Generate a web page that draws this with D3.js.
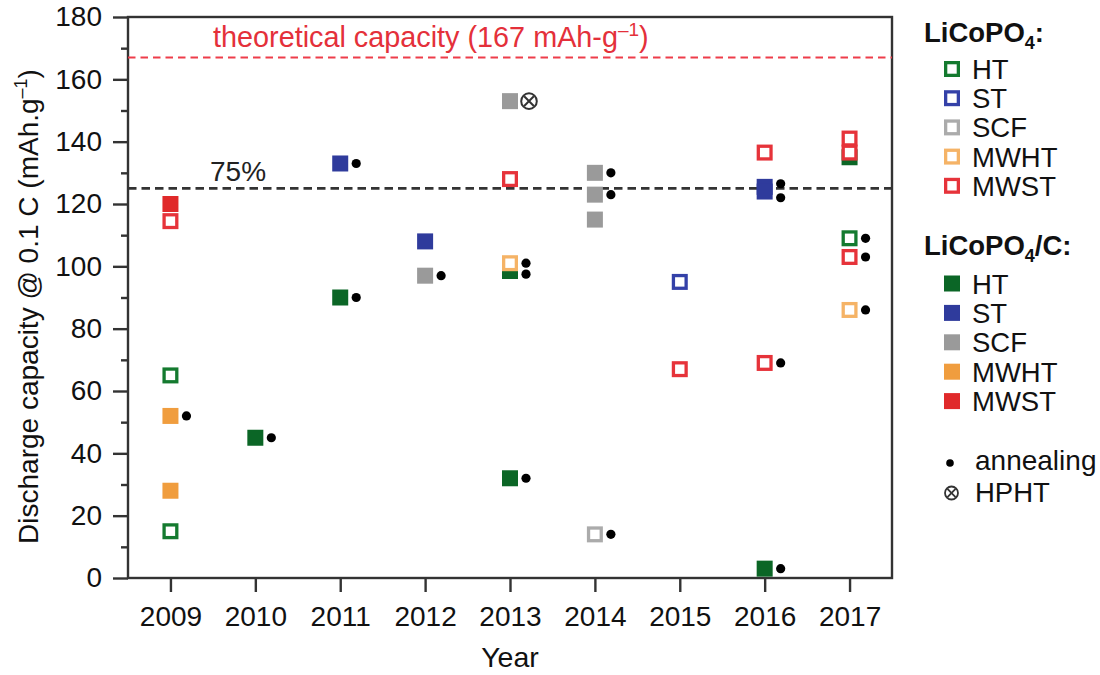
<!DOCTYPE html>
<html>
<head>
<meta charset="utf-8">
<script src="https://cdn.jsdelivr.net/npm/d3@7"></script>
<style>
  html, body { margin: 0; padding: 0; background: #fff; }
  svg { display: block; font-family: "Liberation Sans", Arial, Helvetica, sans-serif; }
</style>
</head>
<body>
<svg id="chart" width="1100" height="675"></svg>
<script>
// ---------------- data ----------------
const years = [2009, 2010, 2011, 2012, 2013, 2014, 2015, 2016, 2017];
const yTicks = [0, 20, 40, 60, 80, 100, 120, 140, 160, 180];
const yMinorTicks = [10, 30, 50, 70, 90, 110, 130, 150, 170];
const methods = ["HT", "ST", "SCF", "MWHT", "MWST"];
const filledColors = ["#0b6626", "#2f3b9c", "#9a9a9a", "#f09d3e", "#e0292a"];
const openColors = ["#147a2f", "#3441a8", "#ababab", "#f5b366", "#e6333a"];

// LiCoPO4 (open squares): [method, year, capacity]
const licopo4 = [
  ["HT", 2009, 65], ["HT", 2009, 15], ["HT", 2017, 109],
  ["ST", 2015, 95],
  ["SCF", 2014, 14],
  ["MWHT", 2013, 101], ["MWHT", 2017, 86],
  ["MWST", 2009, 114.5], ["MWST", 2013, 128], ["MWST", 2015, 67],
  ["MWST", 2016, 136.5], ["MWST", 2016, 69],
  ["MWST", 2017, 141], ["MWST", 2017, 136.5], ["MWST", 2017, 103]
];

// LiCoPO4/C (filled squares): [method, year, capacity]
const licopo4C = [
  ["HT", 2010, 45], ["HT", 2011, 90], ["HT", 2013, 98.5], ["HT", 2013, 32],
  ["HT", 2016, 3], ["HT", 2017, 135],
  ["ST", 2011, 133], ["ST", 2012, 108], ["ST", 2016, 125.5], ["ST", 2016, 124],
  ["SCF", 2012, 97], ["SCF", 2013, 153], ["SCF", 2014, 130], ["SCF", 2014, 123], ["SCF", 2014, 115],
  ["MWHT", 2009, 52], ["MWHT", 2009, 28],
  ["MWST", 2009, 120]
];

// annealing markers: [year, capacity]
const annealing = [
  [2009, 52], [2010, 45], [2011, 133], [2011, 90], [2012, 97],
  [2013, 101], [2013, 97.5], [2013, 32],
  [2014, 130], [2014, 123], [2014, 14],
  [2016, 126.5], [2016, 122], [2016, 69], [2016, 3],
  [2017, 109], [2017, 103], [2017, 86]
];
// HPHT markers: [year, capacity]
const hpht = [[2013, 153]];

const theoreticalCapacity = 167;
const practicalLevel = 125;   // 75 %

// ---------------- layout ----------------
const svg = d3.select("#chart");
const pLeft = 128, pRight = 892, pTop = 17, pBottom = 578;
const fontMain = 28;

const x = d3.scaleLinear().domain([2008.5, 2017.5]).range([pLeft, pRight]);
const y = d3.scaleLinear().domain([0, 180]).range([pBottom, pTop]);
const fillOf = d3.scaleOrdinal().domain(methods).range(filledColors);
const strokeOf = d3.scaleOrdinal().domain(methods).range(openColors);

const axisColor = "#333";

// axes
const yAxis = svg.append("g").attr("transform", `translate(${pLeft},0)`)
  .call(d3.axisLeft(y).tickValues(yTicks).tickSize(15).tickPadding(11).tickFormat(d3.format("d")));
const yMinor = svg.append("g").attr("transform", `translate(${pLeft},0)`)
  .call(d3.axisLeft(y).tickValues(yMinorTicks).tickSize(7).tickFormat(""));
const xAxis = svg.append("g").attr("transform", `translate(0,${pBottom})`)
  .call(d3.axisBottom(x).tickValues(years).tickSize(14).tickPadding(14).tickFormat(d3.format("d")));

[yAxis, yMinor, xAxis].forEach(g => {
  g.select(".domain").remove();
  g.selectAll(".tick line").attr("stroke", axisColor).attr("stroke-width", 2.4);
  g.selectAll(".tick text").attr("fill", "#111").style("font-size", fontMain + "px")
    .style("font-family", '"Liberation Sans", Arial, sans-serif');
});

// frame
svg.append("rect")
  .attr("x", pLeft).attr("y", pTop)
  .attr("width", pRight - pLeft).attr("height", pBottom - pTop)
  .attr("fill", "none").attr("stroke", axisColor).attr("stroke-width", 2.4);

// reference lines
svg.append("line")
  .attr("x1", pLeft).attr("x2", pRight)
  .attr("y1", y(theoreticalCapacity)).attr("y2", y(theoreticalCapacity))
  .attr("stroke", "#ee3d4a").attr("stroke-width", 2.2).attr("stroke-dasharray", "7.5 5");
svg.append("line")
  .attr("x1", pLeft).attr("x2", pRight)
  .attr("y1", y(practicalLevel)).attr("y2", y(practicalLevel))
  .attr("stroke", "#333").attr("stroke-width", 2.6).attr("stroke-dasharray", "8.5 5");

const theo = svg.append("text")
  .attr("x", 213).attr("y", y(theoreticalCapacity) - 11)
  .attr("fill", "#e4303a").style("font-size", "28.8px");
theo.append("tspan").text("theoretical capacity (167 mAh-g");
theo.append("tspan").attr("dy", -11).style("font-size", "19px").text("–1");
theo.append("tspan").attr("dy", 11).text(")");

svg.append("text")
  .attr("x", 210).attr("y", y(practicalLevel) - 7)
  .attr("fill", "#222").style("font-size", "28px").text("75%");

// axis titles
const yl = svg.append("text")
  .attr("transform", `translate(37.5,${(pTop + pBottom) / 2 + 9}) rotate(-90)`)
  .attr("text-anchor", "middle").attr("fill", "#111").style("font-size", "28px");
yl.append("tspan").text("Discharge capacity @ 0.1 C (mAh.g");
yl.append("tspan").attr("dy", -11).style("font-size", "18px").text("–1");
yl.append("tspan").attr("dy", 11).text(")");

svg.append("text")
  .attr("x", (pLeft + pRight) / 2).attr("y", 667)
  .attr("text-anchor", "middle").attr("fill", "#111").style("font-size", "28.5px").text("Year");

// markers
const sq = 16, openStroke = 3.3;
svg.append("g").selectAll("rect").data(licopo4C).join("rect")
  .attr("x", d => x(d[1]) - sq / 2).attr("y", d => y(d[2]) - sq / 2)
  .attr("width", sq).attr("height", sq)
  .attr("fill", d => fillOf(d[0]));

svg.append("g").selectAll("rect").data(licopo4).join("rect")
  .attr("x", d => x(d[1]) - (sq - openStroke) / 2).attr("y", d => y(d[2]) - (sq - openStroke) / 2)
  .attr("width", sq - openStroke).attr("height", sq - openStroke)
  .attr("fill", "#fff").attr("stroke", d => strokeOf(d[0])).attr("stroke-width", openStroke);

const dotOffset = 16;
svg.append("g").selectAll("circle").data(annealing).join("circle")
  .attr("cx", d => x(d[0]) + dotOffset).attr("cy", d => y(d[1]))
  .attr("r", 4.6).attr("fill", "#000");

function otimes(g, cx, cy, r, sw) {
  g.append("circle").attr("cx", cx).attr("cy", cy).attr("r", r)
    .attr("fill", "#fff").attr("stroke", "#333").attr("stroke-width", sw);
  const k = r * 0.62;
  g.append("line").attr("x1", cx - k).attr("y1", cy - k).attr("x2", cx + k).attr("y2", cy + k)
    .attr("stroke", "#333").attr("stroke-width", sw);
  g.append("line").attr("x1", cx - k).attr("y1", cy + k).attr("x2", cx + k).attr("y2", cy - k)
    .attr("stroke", "#333").attr("stroke-width", sw);
}
const hg = svg.append("g");
hpht.forEach(d => otimes(hg, x(d[0]) + 19, y(d[1]), 7.8, 2));

// ---------------- legend ----------------
const lg = svg.append("g");
const legX = 924, markX = 952, textX = 972, legFont = "27.5px";
function title(yBase, suffix) {
  const t = lg.append("text").attr("x", legX).attr("y", yBase)
    .attr("fill", "#111").style("font-size", "27.5px").style("font-weight", "bold");
  t.append("tspan").text("LiCoPO");
  t.append("tspan").attr("dy", 7).style("font-size", "18px").text("4");
  t.append("tspan").attr("dy", -7).text(suffix);
}
title(42, ":");
title(255, "/C:");

methods.forEach((m, i) => {
  const cy = 69 + i * 29.2;
  lg.append("rect").attr("x", markX - (sq - openStroke) / 2).attr("y", cy - (sq - openStroke) / 2)
    .attr("width", sq - openStroke).attr("height", sq - openStroke)
    .attr("fill", "#fff").attr("stroke", strokeOf(m)).attr("stroke-width", openStroke);
  lg.append("text").attr("x", textX).attr("y", cy + 10).attr("fill", "#111")
    .style("font-size", legFont).text(m);
});
methods.forEach((m, i) => {
  const cy = 283.5 + i * 29.4;
  lg.append("rect").attr("x", markX - sq / 2).attr("y", cy - sq / 2)
    .attr("width", sq).attr("height", sq).attr("fill", fillOf(m));
  lg.append("text").attr("x", textX).attr("y", cy + 10).attr("fill", "#111")
    .style("font-size", legFont).text(m);
});
lg.append("circle").attr("cx", 950).attr("cy", 463).attr("r", 3.8).attr("fill", "#000");
lg.append("text").attr("x", 975).attr("y", 470).attr("fill", "#111").style("font-size", "28px").text("annealing");
otimes(lg, 951.5, 493, 6.5, 1.8);
lg.append("text").attr("x", 975).attr("y", 502).attr("fill", "#111").style("font-size", "27.5px").text("HPHT");
</script>
</body>
</html>
